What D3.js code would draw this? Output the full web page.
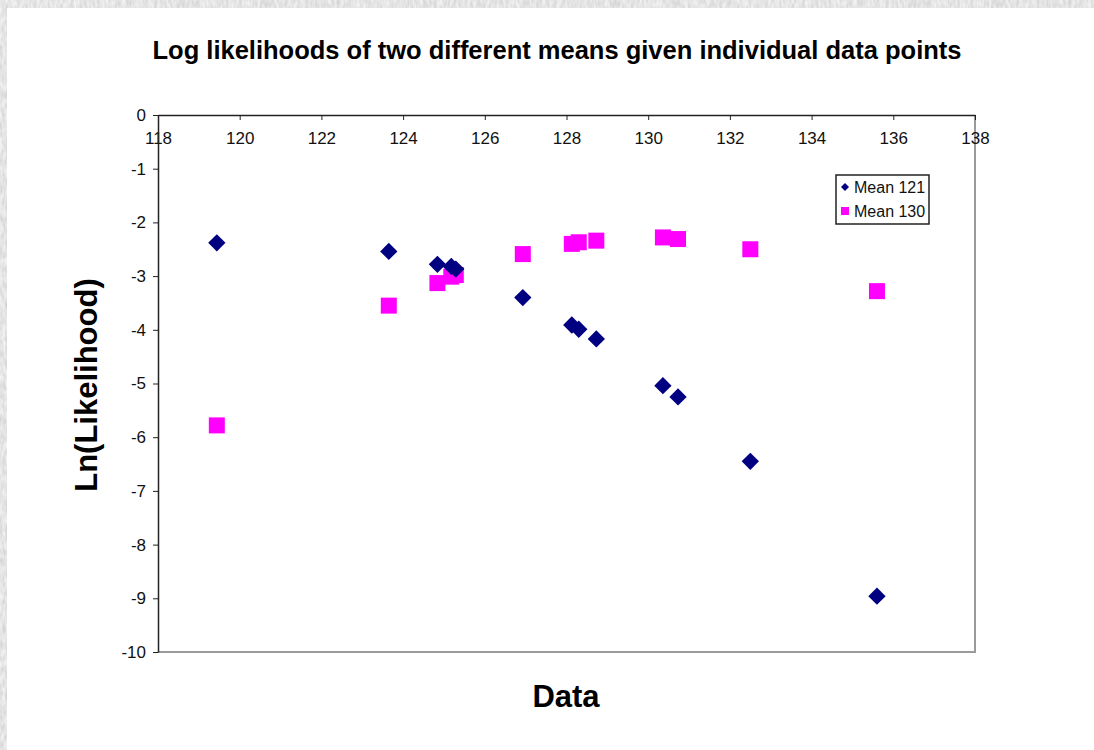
<!DOCTYPE html>
<html>
<head>
<meta charset="utf-8">
<script src="https://cdn.jsdelivr.net/npm/d3@7"></script>
<style>
  body { margin: 0; background: #fff; }
  svg { display: block; font-family: Arial, "Liberation Sans", sans-serif; }
</style>
</head>
<body>
<svg id="chart" width="1094" height="750"></svg>
<script>
// data
const dataX = [119.44, 123.65, 124.84, 125.18, 125.29, 126.93, 128.13, 128.30, 128.73, 130.36, 130.73, 132.50, 135.60];
const mean121 = [-2.38, -2.54, -2.78, -2.82, -2.87, -3.40, -3.91, -3.99, -4.17, -5.04, -5.25, -6.45, -8.96];
const mean130 = [-5.78, -3.55, -3.13, -3.01, -2.98, -2.59, -2.40, -2.37, -2.34, -2.28, -2.31, -2.50, -3.28];
const xTicks = [118, 120, 122, 124, 126, 128, 130, 132, 134, 136, 138];
const yTicks = [0, -1, -2, -3, -4, -5, -6, -7, -8, -9, -10];
const seriesNames = ["Mean 121", "Mean 130"];

const svg = d3.select("#chart");
const width = 1094, height = 750;

// textured page background strip around the white chart sheet
const defs = svg.append("defs");
const filt = defs.append("filter").attr("id", "paper");
filt.append("feTurbulence").attr("type", "fractalNoise").attr("baseFrequency", "0.35 0.12").attr("numOctaves", 2).attr("seed", 3);
filt.append("feColorMatrix").attr("type", "matrix")
    .attr("values", "0 0 0 0 0.6  0 0 0 0 0.6  0 0 0 0 0.6  0 0 0 -1.3 1.0");
svg.append("rect").attr("width", width).attr("height", height).attr("fill", "#f2f2f2");
svg.append("rect").attr("width", width).attr("height", height).attr("filter", "url(#paper)");
svg.append("rect").attr("x", 7).attr("y", 8).attr("width", width - 7).attr("height", height - 8).attr("fill", "#fff");

const margin = { top: 115, right: 119, bottom: 98, left: 158 };
const innerW = width - margin.left - margin.right;
const innerH = height - margin.top - margin.bottom;

const x = d3.scaleLinear().domain([118, 138]).range([0, innerW]);
const y = d3.scaleLinear().domain([0, -10]).range([0, innerH]);

const g = svg.append("g").attr("transform", `translate(${margin.left},${margin.top})`);

// plot area border (right and bottom)
g.append("path")
    .attr("d", `M${x(118)},${y(-10)}H${x(138)}V${y(0)}`)
    .attr("fill", "none")
    .attr("stroke", "#9a9a9a")
    .attr("stroke-width", 2);

// x axis sits at y = 0 (top of the plot)
const xAxis = g.append("g")
    .attr("transform", `translate(0,${y(0)})`)
    .call(d3.axisBottom(x).tickValues(xTicks).tickFormat(d => String(d))
        .tickSize(5).tickPadding(12).tickSizeOuter(0));
xAxis.select(".domain").attr("stroke", "#222").attr("stroke-width", 1.5);
xAxis.selectAll(".tick line").attr("stroke", "#222");
xAxis.selectAll("text").attr("font-size", 17).attr("fill", "#111");

const yAxis = g.append("g")
    .call(d3.axisLeft(y).tickValues(yTicks).tickFormat(d => String(d))
        .tickSize(5).tickPadding(7).tickSizeOuter(0));
yAxis.select(".domain").attr("stroke", "#222").attr("stroke-width", 1.5);
yAxis.selectAll(".tick line").attr("stroke", "#222");
yAxis.selectAll("text").attr("font-size", 17).attr("fill", "#111");

const pts121 = dataX.map((d, i) => ({ x: d, y: mean121[i] }));
const pts130 = dataX.map((d, i) => ({ x: d, y: mean130[i] }));

const diamond = d3.symbol().type(d3.symbolSquare).size(150);

g.selectAll(".sq")
    .data(pts130)
    .enter().append("rect")
    .attr("class", "sq")
    .attr("x", d => x(d.x) - 8)
    .attr("y", d => y(d.y) - 8)
    .attr("width", 16)
    .attr("height", 16)
    .attr("fill", "#ff00ff");

g.selectAll(".dm")
    .data(pts121)
    .enter().append("path")
    .attr("class", "dm")
    .attr("d", diamond)
    .attr("transform", d => `translate(${x(d.x)},${y(d.y)}) rotate(45)`)
    .attr("fill", "#000080");

// legend
const legend = svg.append("g").attr("transform", "translate(836,175)");
legend.append("rect")
    .attr("width", 93).attr("height", 49)
    .attr("fill", "#fff").attr("stroke", "#222").attr("stroke-width", 1.5);
legend.append("path")
    .attr("d", d3.symbol().type(d3.symbolSquare).size(32))
    .attr("transform", "translate(9,12) rotate(45)")
    .attr("fill", "#000080");
legend.append("rect")
    .attr("x", 5).attr("y", 32).attr("width", 8).attr("height", 8)
    .attr("fill", "#ff00ff");
legend.selectAll(".lt")
    .data(seriesNames)
    .enter().append("text")
    .attr("x", 18)
    .attr("y", (d, i) => 18 + i * 24)
    .attr("font-size", 16)
    .attr("fill", "#111")
    .text(d => d);

// titles
svg.append("text")
    .attr("x", 557).attr("y", 59)
    .attr("text-anchor", "middle")
    .attr("font-size", 25.5).attr("font-weight", "bold")
    .text("Log likelihoods of two different means given individual data points");

svg.append("text")
    .attr("x", 566).attr("y", 707)
    .attr("text-anchor", "middle")
    .attr("font-size", 31).attr("font-weight", "bold")
    .text("Data");

svg.append("text")
    .attr("transform", "translate(97,385) rotate(-90)")
    .attr("text-anchor", "middle")
    .attr("font-size", 31).attr("font-weight", "bold")
    .text("Ln(Likelihood)");
</script>
</body>
</html>
